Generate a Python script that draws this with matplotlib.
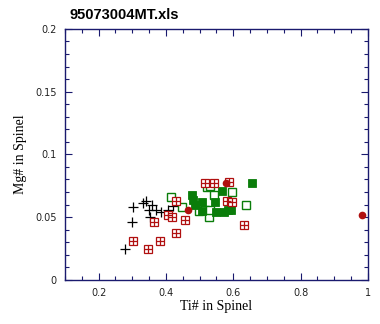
import numpy as np
import matplotlib.pyplot as plt
from matplotlib.ticker import MultipleLocator, FormatStrFormatter

# spinel compositions, grouped by symbol
cross_ti = [0.303, 0.298, 0.279, 0.333, 0.342, 0.360, 0.349, 0.354, 0.369, 0.386, 0.407, 0.422]
cross_mg = [0.058, 0.046, 0.025, 0.061, 0.063, 0.060, 0.056, 0.050, 0.056, 0.054, 0.056, 0.059]

redsq_ti = [0.303, 0.347, 0.382, 0.364, 0.430, 0.407, 0.417, 0.430, 0.456,
            0.516, 0.543, 0.588, 0.580, 0.597, 0.633]
redsq_mg = [0.031, 0.0245, 0.031, 0.046, 0.037, 0.052, 0.050, 0.063, 0.048,
            0.077, 0.077, 0.078, 0.063, 0.062, 0.044]

redci_ti = [0.466, 0.578, 0.983]
redci_mg = [0.056, 0.077, 0.052]

grfill_ti = [0.478, 0.481, 0.486, 0.508, 0.506, 0.545, 0.548, 0.567, 0.573, 0.585, 0.593, 0.656]
grfill_mg = [0.068, 0.064, 0.060, 0.062, 0.055, 0.062, 0.054, 0.071, 0.054, 0.056, 0.056, 0.077]

gropen_ti = [0.415, 0.447, 0.499, 0.516, 0.529, 0.531, 0.521, 0.531, 0.543, 0.595, 0.637]
gropen_mg = [0.066, 0.058, 0.055, 0.056, 0.050, 0.056, 0.074, 0.075, 0.068, 0.070, 0.060]

navy = '#1a1a6e'
red = '#b01010'
green = '#0a7d0a'

fig = plt.figure(figsize=(3.8, 3.24), dpi=100)
ax = fig.add_axes([0.171, 0.136, 0.797, 0.775])

ax.plot(cross_ti, cross_mg, ls='none', marker='+', ms=6.5, mew=0.9, color='black')
ax.plot(gropen_ti, gropen_mg, ls='none', marker='s', ms=5.5, mew=1.0, mfc='white', mec=green)
ax.plot(grfill_ti, grfill_mg, ls='none', marker='s', ms=5.7, mew=0.6, color=green)
ax.plot(redsq_ti, redsq_mg, ls='none', marker='s', ms=5.5, mew=0.9, mfc='white', mec=red)
ax.plot(redsq_ti, redsq_mg, ls='none', marker='+', ms=5.5, mew=0.9, color=red)
ax.plot(redci_ti, redci_mg, ls='none', marker='o', ms=5.5, mew=0, color=red)

ax.set_xlim(0.1, 1.0)
ax.set_ylim(0, 0.2)
ax.xaxis.set_major_locator(MultipleLocator(0.2))
ax.xaxis.set_minor_locator(MultipleLocator(0.05))
ax.yaxis.set_major_locator(MultipleLocator(0.05))
ax.yaxis.set_minor_locator(MultipleLocator(0.01))
ax.xaxis.set_major_formatter(FormatStrFormatter('%g'))
ax.yaxis.set_major_formatter(FormatStrFormatter('%g'))

ax.tick_params(which='both', direction='in', top=True, right=True, color=navy,
               labelsize=7, labelcolor='#222222', width=0.8)
ax.tick_params(which='major', length=5, pad=6)
ax.tick_params(which='minor', length=3)
for s in ax.spines.values():
    s.set_color(navy)
    s.set_linewidth(1.0)

ax.set_xlabel('Ti# in Spinel', family='Liberation Serif', fontsize=10, labelpad=1)
ax.set_ylabel('Mg# in Spinel', family='Liberation Serif', fontsize=10, labelpad=6)

fig.text(69 / 380, 1 - 19 / 324, '95073004MT.xls', family='Liberation Sans',
         fontsize=10.5, fontweight='bold')

fig.savefig('out.png', dpi=100)
